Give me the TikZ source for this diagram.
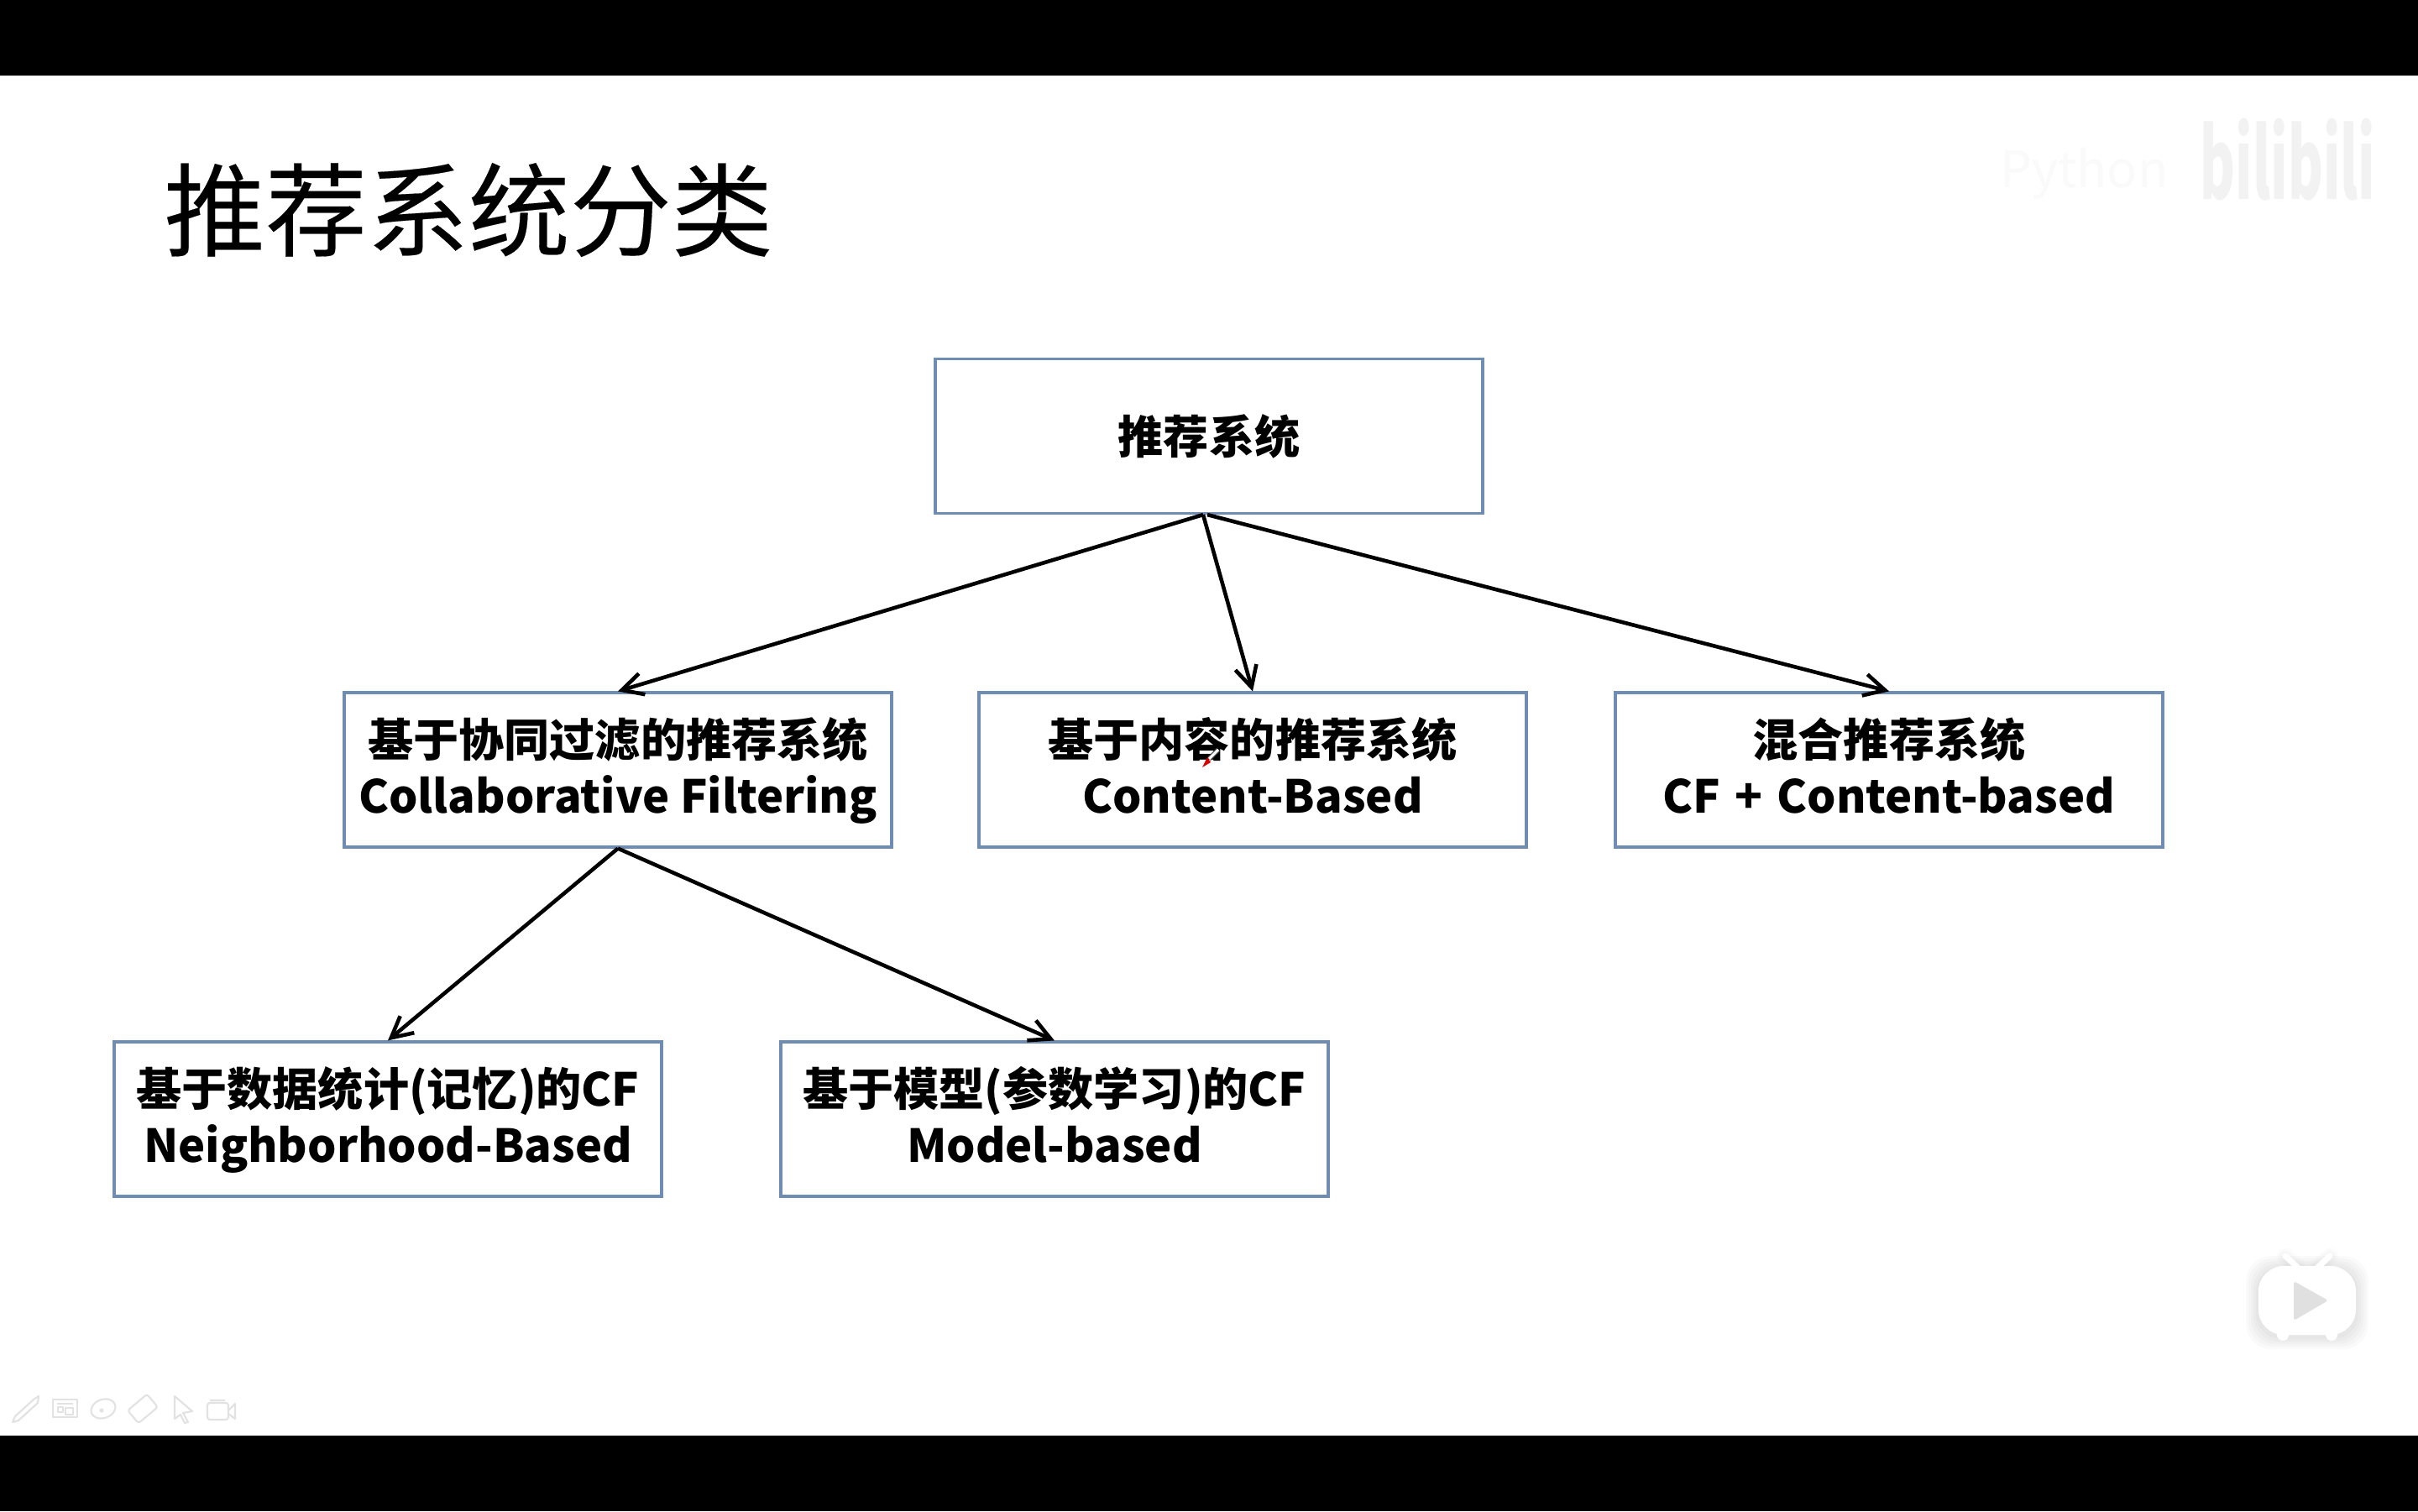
\documentclass[tikz,border=0pt]{standalone}
\usepackage{fontspec}
\setmainfont{Noto Sans CJK SC}
\usepackage{xcolor}
\definecolor{boxblue}{HTML}{6F8DB3}
\definecolor{markgray}{HTML}{E2E2E2}
\usetikzlibrary{arrows.meta}
\newcommand{\toprow}{\rule[-5.4pt]{0pt}{21pt}}
\tikzset{
  sysbox/.style={draw=boxblue,line width=.9pt,fill=white,minimum width=6.52cm,minimum height=1.84cm,inner sep=0pt,align=center,font=\fontsize{15.4}{17.9}\selectfont\bfseries},
  treearrow/.style={-{Straight Barb[length=2.5mm,width=2.6mm]},line width=1.3pt,black},
  toolmark/.style={draw=markgray,line width=.6pt,line join=round}
}
\begin{document}
\begin{tikzpicture}
\useasboundingbox (0,0) rectangle (28.8,18);
\fill[white] (0,0) rectangle (28.8,18);
\fill[black] (0,0) rectangle (28.8,.9); %%% bottom bar
\fill[black] (0,17.1) rectangle (28.8,18); %%% top bar

\node (title) at (5.58,15.5) {\fontsize{34.4}{40}\selectfont\addfontfeature{FakeBold=.15} 推荐系统分类};

\node[sysbox] (root) at (14.40,12.805) {推荐系统};
\node[sysbox] (cf) at (7.36,8.83) {\toprow 基于协同过滤的推荐系统\\\strut Collaborative Filtering};
\node[sysbox] (content) at (14.92,8.83) {\toprow 基于内容的推荐系统\\\strut Content-Based};
\node[sysbox] (hybrid) at (22.50,8.83) {\toprow 混合推荐系统\\\strut CF\hspace{1.3pt} + \hspace{1.3pt}Content-based};
\node[sysbox] (neighbor) at (4.62,4.67) {\toprow 基于数据统计(记忆)的CF\\\strut Neighborhood-Based};
\node[sysbox] (model) at (12.56,4.67) {\toprow 基于模型(参数学习)的CF\\\strut Model-based};

\draw[treearrow] ([xshift=-.07cm]root.south) -- (cf.north);
\draw[treearrow] ([xshift=-.07cm]root.south) -- (content.north);
\draw[treearrow] ([xshift=-.02cm]root.south) -- (hybrid.north);
\draw[treearrow] (cf.south) -- (neighbor.north);
\draw[treearrow] (cf.south) -- (model.north);

%%% pen pointer
\draw[black!70,line width=1.6pt] (14.40,8.96) -- (14.51,9.07);
\draw[white,line width=.9pt] (14.40,8.96) -- (14.51,9.07);
\fill[red!85!black] (14.32,8.86) -- (14.42,8.92) -- (14.38,8.98) -- cycle;

%%% watermark
\node[text=black!2,anchor=east,font=\fontsize{17}{20}\selectfont] (wmtext) at (25.95,15.93) {Python};
\node[text=black!5,anchor=east,xscale=.55,transform shape,font=\fontsize{33}{40}\selectfont\bfseries] (wmlogo) at (28.36,16.1) {bilibili};

%%% play button
\foreach \g in {.15,.12,.09,.06,.03} {
  \fill[black,opacity=.02,rounded corners=.3cm] (26.9-\g,2.08-\g) rectangle (28.06+\g,2.92+\g-.03);
  \draw[black,opacity=.008,line width={(.07+\g)*1cm},line cap=round] (27.22,3.03) -- (27.37,2.89) (27.75,3.03) -- (27.6,2.89);
}
\draw[white,line width=2pt,line cap=round] (27.22,3.04) -- (27.37,2.9) (27.75,3.04) -- (27.6,2.9);
\fill[white,rounded corners=.3cm] (26.9,2.1) rectangle (28.06,2.92);
\fill[white] (27.19,2.1) circle (.07) (27.77,2.1) circle (.07);
\fill[black!12,rounded corners=.03cm] (27.32,2.74) -- (27.73,2.51) -- (27.32,2.27) -- cycle;

%%% toolbar
\draw[toolmark] (.15,1.06) -- (.18,1.13) -- (.40,1.33) -- (.46,1.37) -- (.45,1.29) -- (.22,1.08) -- cycle;
\draw[toolmark] (.63,1.12) rectangle (.92,1.33);
\draw[toolmark] (.68,1.28) -- (.87,1.28) (.69,1.18) rectangle (.75,1.24) (.78,1.15) rectangle (.87,1.23);
\draw[toolmark,rotate around={20:(1.23,1.22)}] (1.23,1.22) ellipse [x radius=.15cm,y radius=.11cm];
\fill[markgray] (1.21,1.2) circle (.025);
\draw[toolmark,rounded corners=.03cm,rotate around={40:(1.7,1.22)}] (1.55,1.12) rectangle (1.85,1.32);
\draw[toolmark] (2.08,1.37) -- (2.29,1.19) -- (2.18,1.17) -- (2.24,1.06) -- (2.2,1.05) -- (2.15,1.15) -- (2.08,1.1) -- cycle;
\draw[toolmark,rounded corners=.03cm] (2.47,1.09) rectangle (2.72,1.29);
\draw[toolmark] (2.5,1.32) -- (2.68,1.32) (2.72,1.2) -- (2.8,1.28) -- (2.8,1.1) -- (2.72,1.16);
\end{tikzpicture}
\end{document}
